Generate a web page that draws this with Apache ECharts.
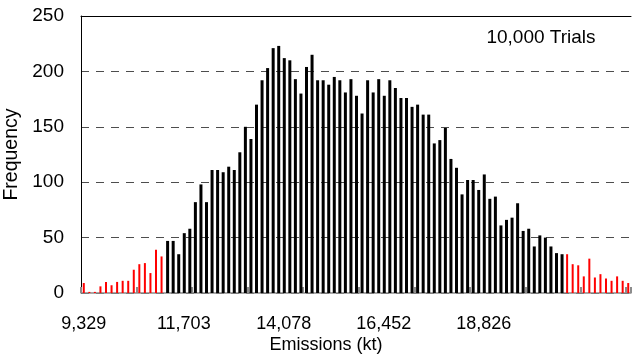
<!DOCTYPE html>
<html>
<head>
<meta charset="utf-8">
<script src="https://cdn.jsdelivr.net/npm/echarts@6/dist/echarts.min.js"></script>
<style>
  html, body { margin: 0; padding: 0; background: #fff; }
  #chart { width: 633px; height: 361px; }
</style>
</head>
<body>
<div id="chart"></div>
<script>
// Monte Carlo emissions histogram: frequency of each emissions bin over 10,000 trials
const frequency = [
  9, 1, 1, 6, 10, 7, 10, 11, 11, 21, 26, 27, 18, 39, 33,
  47, 47, 35, 54, 58, 82, 98, 82, 111, 111, 109, 114, 111, 127,
  150, 139, 170, 192, 203, 221, 223, 212,
  210, 193, 180, 204, 215, 192, 192, 188, 195, 192, 181, 193, 178, 162, 192, 181, 193,
  178, 192, 185, 176, 176, 168, 170, 161, 161, 135, 138, 149, 121, 113, 89, 102, 102,
  93, 107, 85, 87, 61, 66, 68, 81, 56, 58, 42, 52, 50, 42, 36, 35,
  35, 26, 25, 15, 31, 14, 17, 13, 11, 15, 11, 9
];
// bins in the lower and upper tails (outside the central range), drawn in red
const lowerTailBins = 15;
const upperTailStart = 87;
// x-axis labels, one every 18 bins
const xTickLabels = ['9,329', '11,703', '14,078', '16,452', '18,826'];
const labelEvery = 18;
const yTicks = [0, 50, 100, 150, 200, 250];

const bins = frequency.map((_, i) => i);
const isTail = i => i < lowerTailBins || i >= upperTailStart;
const centralData = frequency.map((v, i) => isTail(i) ? '-' : v);
const tailData = frequency.map((v, i) => isTail(i) ? v : '-');

const FONT = "'Liberation Sans', Arial, sans-serif";
const chart = echarts.init(document.getElementById('chart'), null, { renderer: 'canvas' });

chart.setOption({
  animation: false,
  backgroundColor: '#fff',
  textStyle: { fontFamily: FONT },
  title: [
    {
      text: '10,000 Trials', left: 541, top: 38, padding: 0,
      textAlign: 'center', textVerticalAlign: 'middle',
      textStyle: { fontFamily: FONT, fontSize: 19, fontWeight: 'normal', color: '#000' }
    },
    {
      text: 'Emissions (kt)', left: 326, top: 345, padding: 0,
      textAlign: 'center', textVerticalAlign: 'middle',
      textStyle: { fontFamily: FONT, fontSize: 18, fontWeight: 'normal', color: '#000' }
    }
  ],
  grid: {
    left: 81, right: 2, top: 16, bottom: 68,
    containLabel: false,
    outerBoundsMode: 'none'
  },
  xAxis: [
    {
      type: 'category',
      data: bins,
      boundaryGap: true,
      axisLine: { show: true, lineStyle: { color: '#8c8c8c', width: 1.5 } },
      axisTick: {
        show: true, inside: true, length: 6, interval: 9, alignWithLabel: false,
        lineStyle: { color: '#8c8c8c', width: 2 }
      },
      axisLabel: {
        interval: 0,
        margin: 22,
        fontSize: 18,
        fontFamily: FONT,
        color: '#000',
        formatter: (value, idx) => {
          const k = idx / labelEvery;
          return Number.isInteger(k) && k < xTickLabels.length ? xTickLabels[k] : '';
        }
      },
      splitLine: { show: false }
    },
    {
      type: 'category',
      data: bins,
      position: 'top',
      axisLine: { show: true, lineStyle: { color: '#000', width: 1 } },
      axisTick: { show: false },
      axisLabel: { show: false },
      splitLine: { show: false }
    }
  ],
  yAxis: {
    type: 'value',
    min: yTicks[0],
    max: yTicks[yTicks.length - 1],
    interval: yTicks[1] - yTicks[0],
    name: 'Frequency',
    nameLocation: 'middle',
    nameGap: 54,
    nameRotate: 90,
    nameTextStyle: { fontFamily: FONT, fontSize: 19.5, color: '#000' },
    axisLine: { show: true, lineStyle: { color: '#000', width: 1 } },
    axisTick: { show: false },
    axisLabel: { margin: 17, fontSize: 19, fontFamily: FONT, color: '#000' },
    splitLine: {
      show: true,
      lineStyle: { color: '#4d4d4d', width: 1, type: [8, 7] }
    }
  },
  series: [
    {
      name: 'central',
      type: 'bar',
      data: centralData,
      barWidth: 3,
      barGap: '-100%',
      itemStyle: { color: '#000' },
      z: 3
    },
    {
      name: 'tails',
      type: 'bar',
      data: tailData,
      barWidth: 2,
      barGap: '-100%',
      itemStyle: { color: '#ff0000' },
      z: 3
    }
  ]
});
</script>
</body>
</html>
